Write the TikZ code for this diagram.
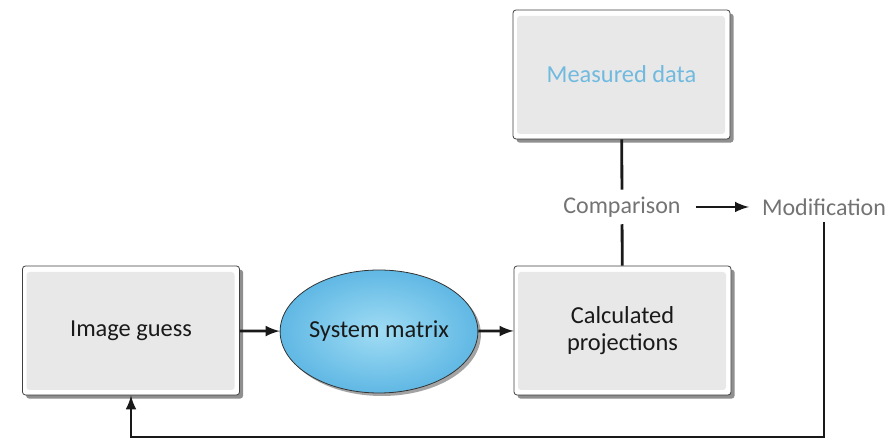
\documentclass[tikz,border=0pt]{standalone}
\usepackage{fontspec}
\setmainfont{Carlito}
\usetikzlibrary{arrows,shapes,shapes.geometric,shadows}
\definecolor{boxgray}{RGB}{232,232,232}
\definecolor{skyin}{RGB}{160,220,244}
\definecolor{skyout}{RGB}{96,184,228}
\definecolor{labgray}{RGB}{115,115,115}
\definecolor{measblue}{RGB}{112,186,224}

\begin{document}
\begin{tikzpicture}[x=0.5pt,y=-0.5pt]
    \tikzset{vertex/.style = {shape=rectangle,draw=black!75,thin,rounded corners=1.5pt,
        fill=white,align=center,minimum width=108.5pt,minimum height=64.5pt,
        font=\fontsize{12.2}{13.5}\selectfont,text=black!90,
        drop shadow={shadow xshift=1.8pt,shadow yshift=-1.8pt,opacity=.55,fill=black!80},
        path picture={\fill[boxgray] ([shift={(2pt,-3pt)}]path picture bounding box.north west)
            rectangle ([shift={(-2.5pt,2.5pt)}]path picture bounding box.south east);}}}
    \tikzset{blob/.style = {shape=ellipse,draw=black!80,thin,inner color=skyin,outer color=skyout,
        inner sep=0pt,minimum width=94pt,minimum height=61.5pt,
        font=\fontsize{12.2}{13.5}\selectfont,text=black!90,
        drop shadow={shadow xshift=1.5pt,shadow yshift=-1.5pt,opacity=.45,fill=black!80}}}
    \tikzset{label/.style = {font=\fontsize{12}{14}\selectfont,text=labgray}}
    \tikzset{edge/.style = {->,>=latex,line width=1.4pt,black!90}}
    \useasboundingbox (0,0) rectangle (894,442);
    % vertices
    \node[vertex] (meas) at (621.5,74.5) {\textcolor{measblue}{Measured data}};
    \node[label] (comp) at (622,207) {Comparison};
    \node[label] (modif) at (824,207) {Modification};
    \node[vertex] (guess) at (131,330.5) {Image guess};
    \node[blob] (matrix) at (379,331.5) {System matrix};
    \node[vertex] (calc) at (622.5,330.5) {Calculated\\ projections};
    \coordinate (low) at (824,437);
    % connectors
    \draw[line width=1.4pt,black!90] (meas) -- (comp);
    \draw[line width=1.4pt,black!90] (comp) -- (calc);
    \draw[edge,shorten <=4pt,shorten >=3pt] (comp) -- (modif);
    \draw[edge] (guess) -- (matrix);
    \draw[edge] (matrix) -- (calc);
    \draw[edge] (modif) -- (low) -| (guess.south);
\end{tikzpicture}
\end{document}
